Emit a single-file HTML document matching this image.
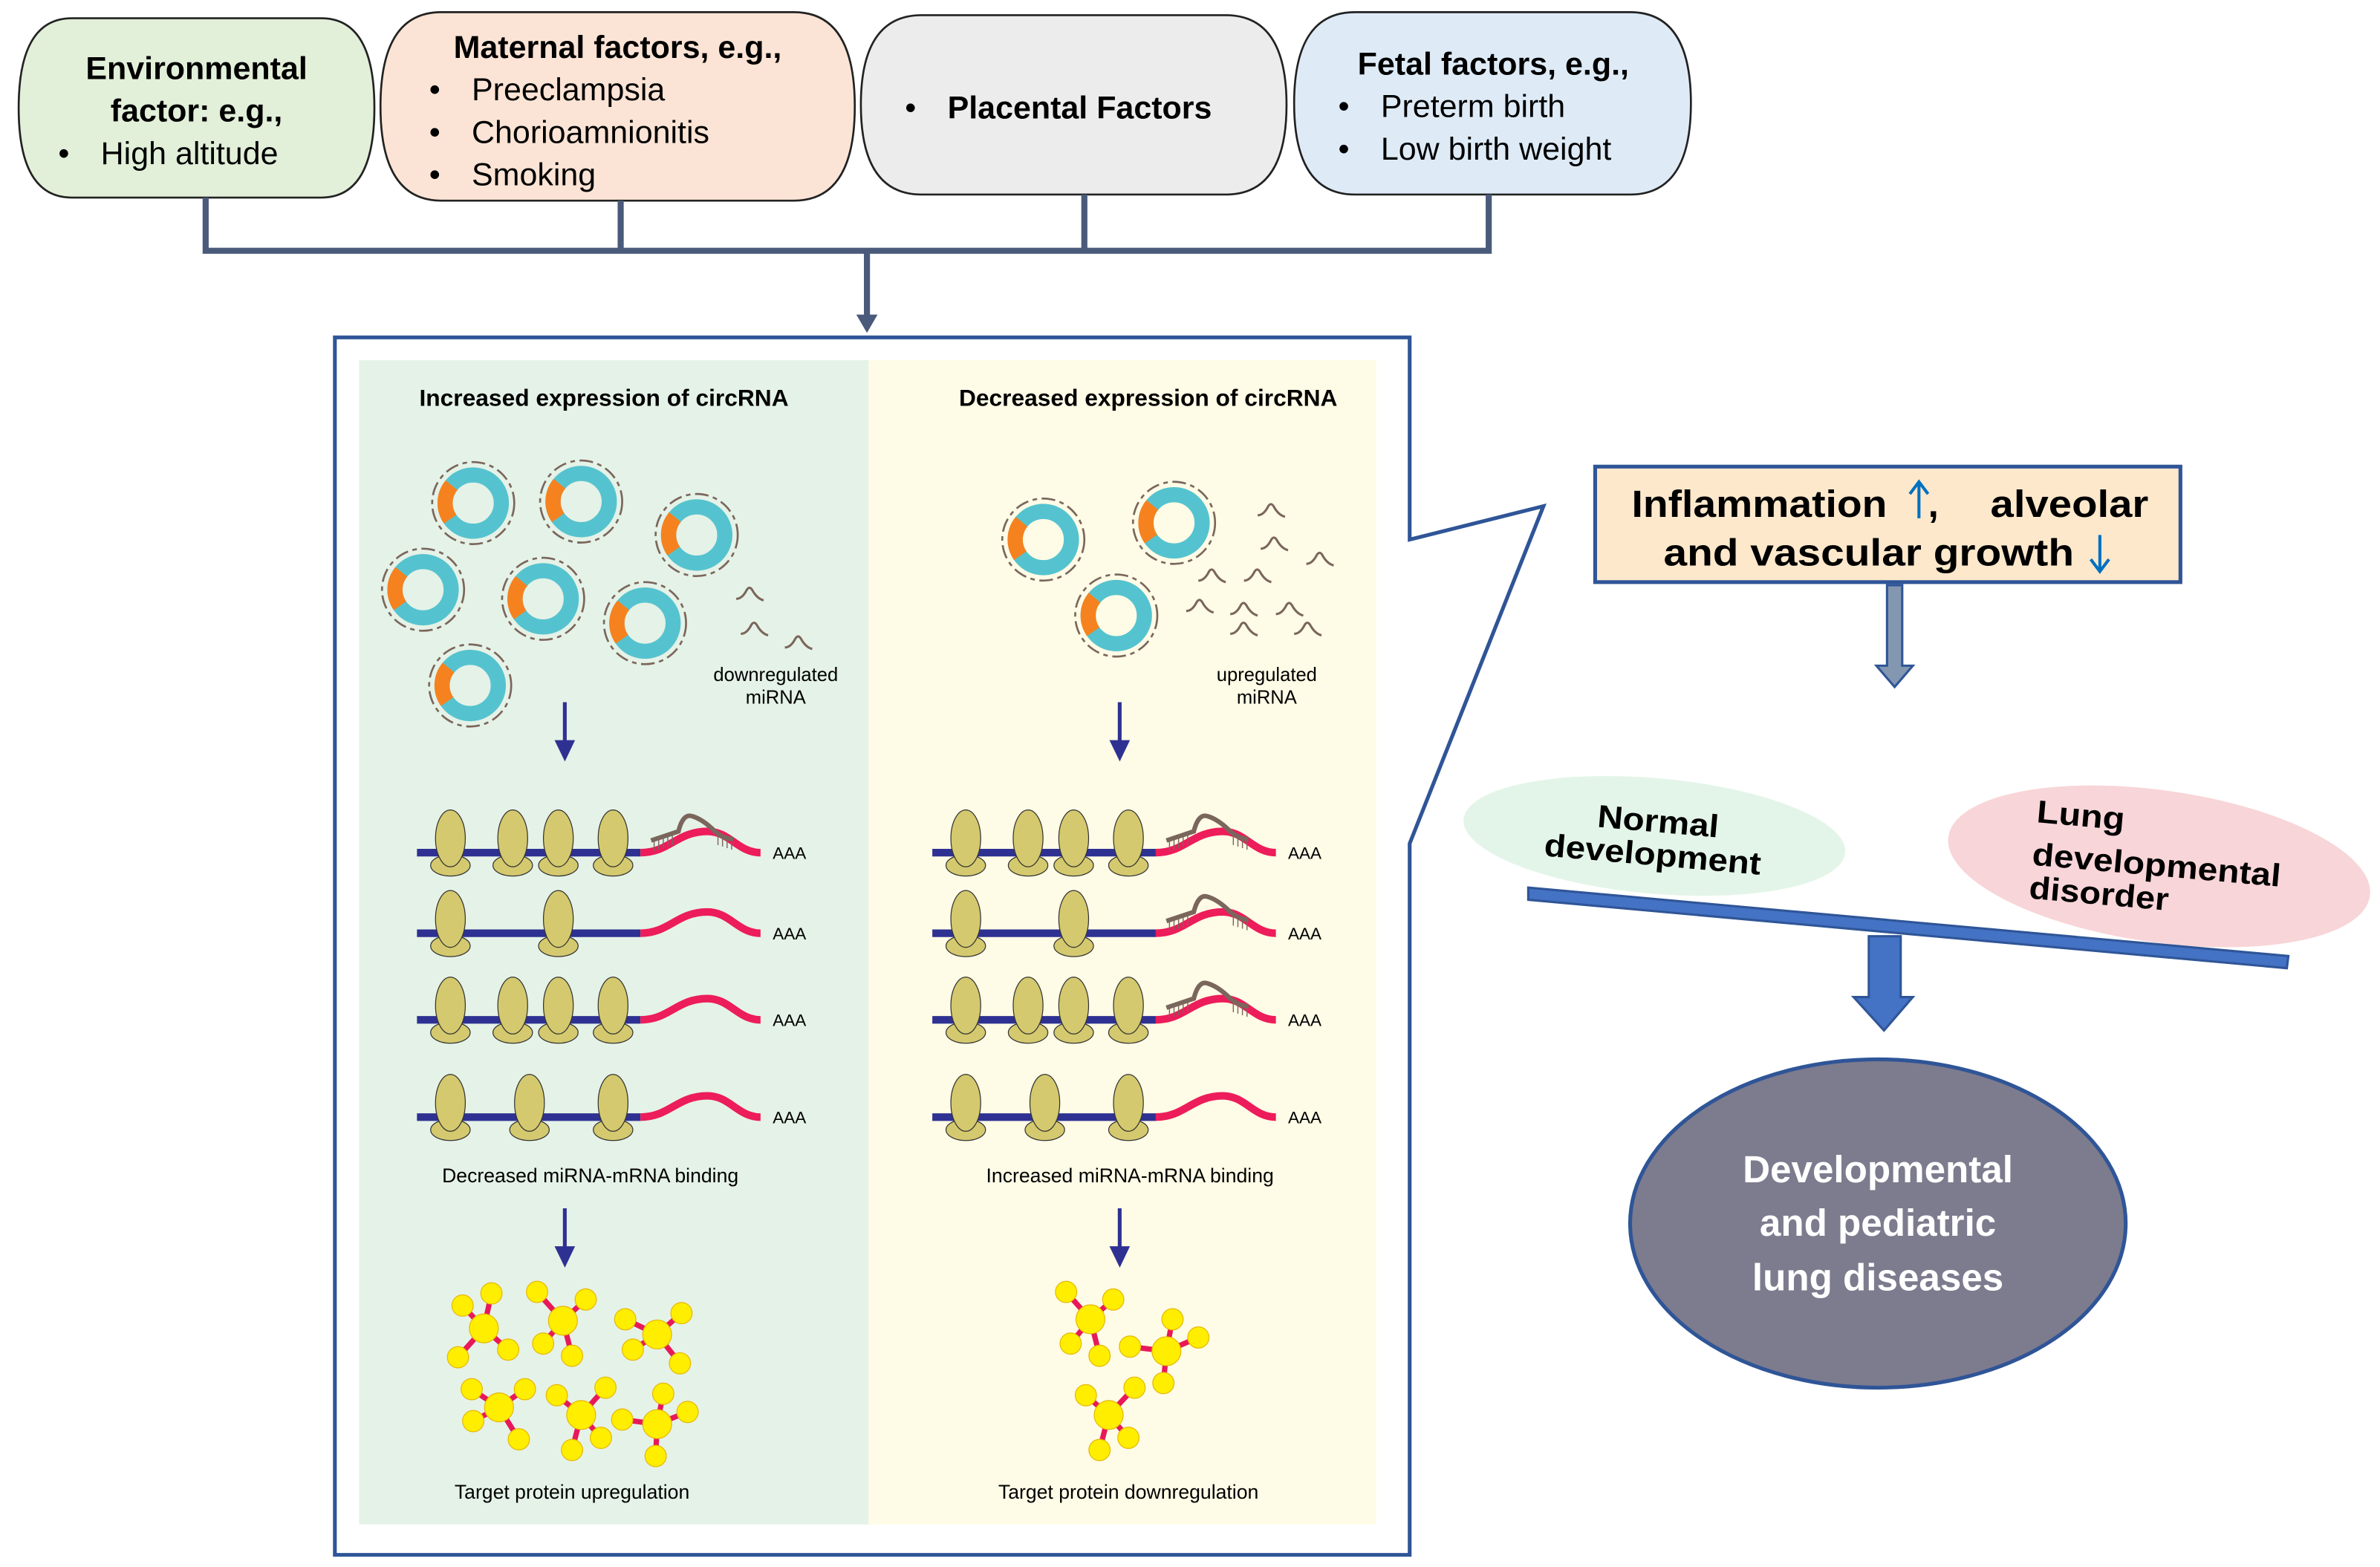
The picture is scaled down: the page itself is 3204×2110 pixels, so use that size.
<!DOCTYPE html>
<html><head><meta charset="utf-8"><style>
html,body{margin:0;padding:0;background:#fff;}
svg{display:block;}
text{font-family:"Liberation Sans",Arial,sans-serif;}
</style></head><body>
<svg width="3204" height="2110" viewBox="0 0 1565 1031" xmlns="http://www.w3.org/2000/svg">
<defs>
<g id="circ">
  <circle r="27" fill="none" stroke="#7a665c" stroke-width="1.3" stroke-dasharray="9 3 3 3"/>
  <circle r="18.5" fill="none" stroke="#55c3cf" stroke-width="10"/>
  <circle r="18.5" fill="none" stroke="#f5821f" stroke-width="10" stroke-dasharray="24 200" transform="rotate(145)"/>
</g>
<path id="mi" d="M-9,3 Q-5,3 -2,-3 Q0,-6 2,-2 Q5,3 9,4" fill="none" stroke="#7a665c" stroke-width="1.5"/>
<g id="rib">
  <ellipse cx="0" cy="8.4" rx="13" ry="7" fill="#d4c96e" stroke="#333" stroke-width="0.6"/>
  <ellipse cx="0" cy="-9.4" rx="9.8" ry="18.7" fill="#d4c96e" stroke="#333" stroke-width="0.6"/>
</g>
<g id="mirna">
  <path d="M-30,-8 Q-18,-12 -12,-14 Q-9,-26 -3,-24 Q4,-22 12,-14 Q18,-9 24,-9" fill="none" stroke="#7a665c" stroke-width="3"/>
  <path d="M-28,-8 v7 M-25,-9 v7 M-22,-10 v7 M-19,-11 v7 M-16,-12 v7 M14,-12 v7 M17,-11 v7 M20,-10 v7 M23,-9 v7" stroke="#7a665c" stroke-width="0.7"/>
</g>
</defs>

<!-- top boxes -->
<path d="M47,12 H211 Q246,12 246,71 Q246,130 211,130 H47 Q12,130 12,71 Q12,12 47,12 Z" fill="#e2efd9" stroke="#222" stroke-width="1.3"/>
<path d="M290,8 H522 Q562,8 562,70 Q562,132 522,132 H290 Q250,132 250,70 Q250,8 290,8 Z" fill="#fbe4d5" stroke="#222" stroke-width="1.3"/>
<path d="M606,10 H806 Q846,10 846,69 Q846,128 806,128 H606 Q566,128 566,69 Q566,10 606,10 Z" fill="#ececec" stroke="#222" stroke-width="1.3"/>
<path d="M891,8 H1072 Q1112,8 1112,68 Q1112,128 1072,128 H891 Q851,128 851,68 Q851,8 891,8 Z" fill="#deebf7" stroke="#222" stroke-width="1.3"/>

<g font-size="21">
<text x="129" y="52" text-anchor="middle" font-weight="bold">Environmental</text>
<text x="129" y="80" text-anchor="middle" font-weight="bold">factor: e.g.,</text>
<text x="38" y="108">•</text><text x="66" y="108">High altitude</text>
<text x="406" y="38" text-anchor="middle" font-weight="bold">Maternal factors, e.g.,</text>
<text x="282" y="66">•</text><text x="310" y="66">Preeclampsia</text>
<text x="282" y="94">•</text><text x="310" y="94">Chorioamnionitis</text>
<text x="282" y="122">•</text><text x="310" y="122">Smoking</text>
<text x="595" y="78">•</text><text x="623" y="78" font-weight="bold">Placental Factors</text>
<text x="982" y="49" text-anchor="middle" font-weight="bold">Fetal factors, e.g.,</text>
<text x="880" y="77">•</text><text x="908" y="77">Preterm birth</text>
<text x="880" y="105">•</text><text x="908" y="105">Low birth weight</text>
</g>

<!-- connectors -->
<g stroke="#4a5a7a" stroke-width="4" fill="none">
<path d="M135,130 V165 M408,132 V165 M713,128 V165 M979,128 V165 M133,165 H981 M570,165 V208"/>
</g>
<path d="M563,207 H577 L570,219 Z" fill="#4a5a7a"/>

<!-- main frame -->
<rect x="236" y="237" width="335" height="766" fill="#e5f2e7"/>
<rect x="571" y="237" width="334" height="766" fill="#fefbe6"/>
<path d="M220,222 H927 V355 L1015,333 L927,555 V1023 H220 Z" fill="none" stroke="#2f5597" stroke-width="2.5"/>

<text x="397" y="267" text-anchor="middle" font-size="15.5" font-weight="bold">Increased expression of circRNA</text>
<text x="755" y="267" text-anchor="middle" font-size="15.5" font-weight="bold">Decreased expression of circRNA</text>

<!-- circRNAs left -->
<use href="#circ" x="311" y="331"/>
<use href="#circ" x="382" y="330"/>
<use href="#circ" x="458" y="352"/>
<use href="#circ" x="278" y="388"/>
<use href="#circ" x="357" y="394"/>
<use href="#circ" x="424" y="410"/>
<use href="#circ" x="309" y="451"/>
<use href="#mi" x="493" y="391"/>
<use href="#mi" x="496" y="414"/>
<use href="#mi" x="525" y="423"/>
<text x="510" y="448" text-anchor="middle" font-size="12.5">downregulated</text>
<text x="510" y="463" text-anchor="middle" font-size="12.5">miRNA</text>

<!-- circRNAs right -->
<use href="#circ" x="686" y="355"/>
<use href="#circ" x="772" y="344"/>
<use href="#circ" x="734" y="405"/>
<use href="#mi" x="836" y="336"/>
<use href="#mi" x="838" y="358"/>
<use href="#mi" x="868" y="368"/>
<use href="#mi" x="797" y="379"/>
<use href="#mi" x="827" y="379"/>
<use href="#mi" x="789" y="399"/>
<use href="#mi" x="818" y="401"/>
<use href="#mi" x="848" y="401"/>
<use href="#mi" x="818" y="414"/>
<use href="#mi" x="860" y="414"/>
<text x="833" y="448" text-anchor="middle" font-size="12.5">upregulated</text>
<text x="833" y="463" text-anchor="middle" font-size="12.5">miRNA</text>

<!-- arrows -->
<g fill="#2e3192" stroke="none">
<rect x="370" y="462" width="2.5" height="26"/><path d="M364.5,487 H378 L371.3,501 Z"/>
<rect x="735" y="462" width="2.5" height="26"/><path d="M729.5,487 H743 L736.3,501 Z"/>
<rect x="370" y="795" width="2.5" height="26"/><path d="M364.5,820 H378 L371.3,834 Z"/>
<rect x="735" y="795" width="2.5" height="26"/><path d="M729.5,820 H743 L736.3,834 Z"/>
</g>

<!-- mRNA rows left -->
<g>
<g transform="translate(0,561)">
 <path d="M274,0 H421" stroke="#2e3192" stroke-width="5"/>
 <path d="M421,0 C440,0 445,-14 465,-14 C480,-14 485,0 500,0" fill="none" stroke="#ed1c5a" stroke-width="5"/>
 <use href="#rib" x="296"/><use href="#rib" x="337"/><use href="#rib" x="367"/><use href="#rib" x="403"/>
 <use href="#mirna" x="458"/>
 <text x="508" y="4" font-size="11">AAA</text>
</g>
<g transform="translate(0,614)">
 <path d="M274,0 H421" stroke="#2e3192" stroke-width="5"/>
 <path d="M421,0 C440,0 445,-14 465,-14 C480,-14 485,0 500,0" fill="none" stroke="#ed1c5a" stroke-width="5"/>
 <use href="#rib" x="296"/><use href="#rib" x="367"/>
 <text x="508" y="4" font-size="11">AAA</text>
</g>
<g transform="translate(0,671)">
 <path d="M274,0 H421" stroke="#2e3192" stroke-width="5"/>
 <path d="M421,0 C440,0 445,-14 465,-14 C480,-14 485,0 500,0" fill="none" stroke="#ed1c5a" stroke-width="5"/>
 <use href="#rib" x="296"/><use href="#rib" x="337"/><use href="#rib" x="367"/><use href="#rib" x="403"/>
 <text x="508" y="4" font-size="11">AAA</text>
</g>
<g transform="translate(0,735)">
 <path d="M274,0 H421" stroke="#2e3192" stroke-width="5"/>
 <path d="M421,0 C440,0 445,-14 465,-14 C480,-14 485,0 500,0" fill="none" stroke="#ed1c5a" stroke-width="5"/>
 <use href="#rib" x="296"/><use href="#rib" x="348"/><use href="#rib" x="403"/>
 <text x="508" y="4" font-size="11">AAA</text>
</g>
</g>

<!-- mRNA rows right -->
<g transform="translate(339,0)">
<g transform="translate(0,561)">
 <path d="M274,0 H421" stroke="#2e3192" stroke-width="5"/>
 <path d="M421,0 C440,0 445,-14 465,-14 C480,-14 485,0 500,0" fill="none" stroke="#ed1c5a" stroke-width="5"/>
 <use href="#rib" x="296"/><use href="#rib" x="337"/><use href="#rib" x="367"/><use href="#rib" x="403"/>
 <use href="#mirna" x="458"/>
 <text x="508" y="4" font-size="11">AAA</text>
</g>
<g transform="translate(0,614)">
 <path d="M274,0 H421" stroke="#2e3192" stroke-width="5"/>
 <path d="M421,0 C440,0 445,-14 465,-14 C480,-14 485,0 500,0" fill="none" stroke="#ed1c5a" stroke-width="5"/>
 <use href="#rib" x="296"/><use href="#rib" x="367"/>
 <use href="#mirna" x="458"/>
 <text x="508" y="4" font-size="11">AAA</text>
</g>
<g transform="translate(0,671)">
 <path d="M274,0 H421" stroke="#2e3192" stroke-width="5"/>
 <path d="M421,0 C440,0 445,-14 465,-14 C480,-14 485,0 500,0" fill="none" stroke="#ed1c5a" stroke-width="5"/>
 <use href="#rib" x="296"/><use href="#rib" x="337"/><use href="#rib" x="367"/><use href="#rib" x="403"/>
 <use href="#mirna" x="458"/>
 <text x="508" y="4" font-size="11">AAA</text>
</g>
<g transform="translate(0,735)">
 <path d="M274,0 H421" stroke="#2e3192" stroke-width="5"/>
 <path d="M421,0 C440,0 445,-14 465,-14 C480,-14 485,0 500,0" fill="none" stroke="#ed1c5a" stroke-width="5"/>
 <use href="#rib" x="296"/><use href="#rib" x="348"/><use href="#rib" x="403"/>
 <text x="508" y="4" font-size="11">AAA</text>
</g>
</g>

<text x="388" y="778" text-anchor="middle" font-size="13">Decreased miRNA-mRNA binding</text>
<text x="743" y="778" text-anchor="middle" font-size="13">Increased miRNA-mRNA binding</text>

<!-- proteins -->
<g stroke="#e8185a" stroke-width="3.5">
<path d="M318,874 L304,859 M318,874 L323,851 M318,874 L301,893 M318,874 L334,888"/>
<path d="M370,869 L353,850 M370,869 L385,855 M370,869 L357,884 M370,869 L376,892"/>
<path d="M432,878 L411,868 M432,878 L448,864 M432,878 L416,888 M432,878 L447,897"/>
<path d="M328,926 L310,914 M328,926 L345,914 M328,926 L311,935 M328,926 L341,947"/>
<path d="M382,931 L366,918 M382,931 L398,913 M382,931 L376,954 M382,931 L395,946"/>
<path d="M432,937 L409,934 M432,937 L436,917 M432,937 L452,929 M432,937 L431,958"/>
<path d="M717,868 L701,850 M717,868 L732,855 M717,868 L704,884 M717,868 L723,892"/>
<path d="M767,889 L771,868 M767,889 L743,886 M767,889 L788,880 M767,889 L765,910"/>
<path d="M729,931 L714,918 M729,931 L746,913 M729,931 L723,954 M729,931 L742,946"/>
</g>
<g fill="#ffee00" stroke="#e6b800" stroke-width="0.6">
<circle cx="318" cy="874" r="9.5"/><circle cx="304" cy="859" r="7"/><circle cx="323" cy="851" r="7"/><circle cx="301" cy="893" r="7"/><circle cx="334" cy="888" r="7"/>
<circle cx="370" cy="869" r="9.5"/><circle cx="353" cy="850" r="7"/><circle cx="385" cy="855" r="7"/><circle cx="357" cy="884" r="7"/><circle cx="376" cy="892" r="7"/>
<circle cx="432" cy="878" r="9.5"/><circle cx="411" cy="868" r="7"/><circle cx="448" cy="864" r="7"/><circle cx="416" cy="888" r="7"/><circle cx="447" cy="897" r="7"/>
<circle cx="328" cy="926" r="9.5"/><circle cx="310" cy="914" r="7"/><circle cx="345" cy="914" r="7"/><circle cx="311" cy="935" r="7"/><circle cx="341" cy="947" r="7"/>
<circle cx="382" cy="931" r="9.5"/><circle cx="366" cy="918" r="7"/><circle cx="398" cy="913" r="7"/><circle cx="376" cy="954" r="7"/><circle cx="395" cy="946" r="7"/>
<circle cx="432" cy="937" r="9.5"/><circle cx="409" cy="934" r="7"/><circle cx="436" cy="917" r="7"/><circle cx="452" cy="929" r="7"/><circle cx="431" cy="958" r="7"/>
<circle cx="717" cy="868" r="9.5"/><circle cx="701" cy="850" r="7"/><circle cx="732" cy="855" r="7"/><circle cx="704" cy="884" r="7"/><circle cx="723" cy="892" r="7"/>
<circle cx="767" cy="889" r="9.5"/><circle cx="771" cy="868" r="7"/><circle cx="743" cy="886" r="7"/><circle cx="788" cy="880" r="7"/><circle cx="765" cy="910" r="7"/>
<circle cx="729" cy="931" r="9.5"/><circle cx="714" cy="918" r="7"/><circle cx="746" cy="913" r="7"/><circle cx="723" cy="954" r="7"/><circle cx="742" cy="946" r="7"/>
</g>
<text x="376" y="986" text-anchor="middle" font-size="13">Target protein upregulation</text>
<text x="742" y="986" text-anchor="middle" font-size="13">Target protein downregulation</text>

<!-- right side -->
<rect x="1049" y="307" width="385" height="76" fill="#fde8cc" stroke="#2f5597" stroke-width="2.5"/>
<text x="1073" y="340" font-size="25" font-weight="bold" textLength="168" lengthAdjust="spacingAndGlyphs">Inflammation</text>
<path d="M1262,341 V318 M1256,325 L1262,317 L1268,325" fill="none" stroke="#0070c0" stroke-width="2"/>
<text x="1268" y="340" font-size="25" font-weight="bold">,</text>
<text x="1309" y="340" font-size="25" font-weight="bold" textLength="104" lengthAdjust="spacingAndGlyphs">alveolar</text>
<text x="1094" y="372" font-size="25" font-weight="bold" textLength="270" lengthAdjust="spacingAndGlyphs">and vascular growth</text>
<path d="M1381,352 V375 M1375,368 L1381,376 L1387,368" fill="none" stroke="#0070c0" stroke-width="2"/>

<path d="M1241,385 H1251 V438 H1258 L1246,452 L1234,438 H1241 Z" fill="#8497b0" stroke="#2f5597" stroke-width="1.5"/>

<ellipse cx="1088" cy="550" rx="126" ry="38" fill="#e3f5e8" transform="rotate(5 1088 550)"/>
<ellipse cx="1420" cy="570" rx="140" ry="50" fill="#f8d5d8" transform="rotate(8 1420 570)"/>
<g font-size="21" font-weight="bold" >
<text transform="translate(1050,544) rotate(5)" textLength="80" lengthAdjust="spacingAndGlyphs">Normal</text>
<text transform="translate(1015,563) rotate(5)" textLength="143" lengthAdjust="spacingAndGlyphs">development</text>
<text transform="translate(1339,541) rotate(5)" textLength="58" lengthAdjust="spacingAndGlyphs">Lung</text>
<text transform="translate(1336,569) rotate(5)" textLength="164" lengthAdjust="spacingAndGlyphs">developmental</text>
<text transform="translate(1334,591) rotate(5)" textLength="92" lengthAdjust="spacingAndGlyphs">disorder</text>
</g>

<path d="M1005,584 L1505,629 L1504,637 L1005,592 Z" fill="#4472c4" stroke="#2f5597" stroke-width="1.5"/>
<path d="M1229,616 H1250 V656 H1258 L1239,678 L1219,656 H1229 Z" fill="#4472c4" stroke="#2f5597" stroke-width="1.5"/>

<ellipse cx="1235" cy="805" rx="163" ry="108" fill="#7d7b8e" stroke="#2f5597" stroke-width="2.5"/>
<g font-size="25" font-weight="bold" fill="#fff" text-anchor="middle">
<text x="1235" y="778">Developmental</text>
<text x="1235" y="813">and pediatric</text>
<text x="1235" y="849">lung diseases</text>
</g>
</svg>
</body></html>
